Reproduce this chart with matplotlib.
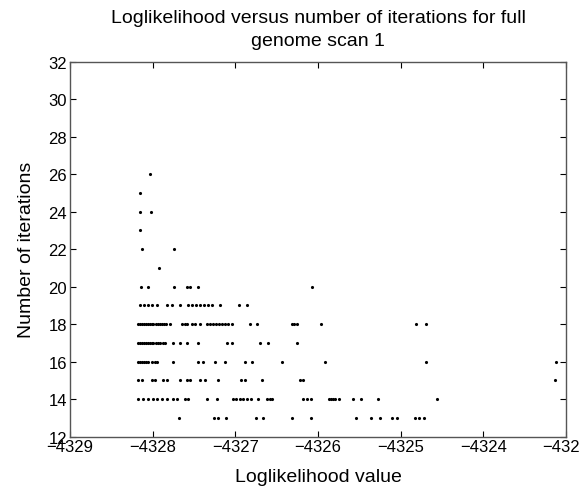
import numpy as np
import matplotlib
matplotlib.use('Agg')
import matplotlib.pyplot as plt

plt.rcParams['font.family'] = ['Liberation Sans', 'DejaVu Sans']

# loglikelihood values grouped by number of iterations
ll_13 = [-4327.68, -4327.26, -4327.21, -4327.11, -4326.75, -4326.67, -4326.31, -4326.08,
         -4325.54, -4325.36, -4325.25, -4325.10, -4325.04, -4324.83, -4324.78, -4324.72]
ll_14 = [-4328.18, -4328.12, -4328.06, -4328.00, -4327.95, -4327.89, -4327.83, -4327.75,
         -4327.71, -4327.61, -4327.57, -4327.34, -4327.22, -4327.03, -4326.99, -4326.94,
         -4326.91, -4326.86, -4326.81, -4326.73, -4326.62, -4326.58, -4326.56, -4326.18,
         -4326.13, -4326.08, -4325.87, -4325.84, -4325.82, -4325.79, -4325.75, -4325.58,
         -4325.48, -4325.27, -4324.56]
ll_15 = [-4328.18, -4328.13, -4328.01, -4327.97, -4327.875, -4327.83, -4327.67, -4327.585,
         -4327.55, -4327.43, -4327.37, -4327.21, -4326.93, -4326.88, -4326.68, -4326.22,
         -4326.18, -4323.13]
ll_16 = [-4328.18, -4328.15, -4328.13, -4328.11, -4328.08, -4328.06, -4328.01, -4327.97,
         -4327.95, -4327.75, -4327.45, -4327.39, -4327.25, -4327.13, -4326.88, -4326.80,
         -4326.44, -4325.92, -4324.69, -4323.12]
ll_17 = [-4328.18, -4328.155, -4328.13, -4328.105, -4328.08, -4328.06, -4328.035, -4328.01,
         -4327.99, -4327.965, -4327.94, -4327.91, -4327.875, -4327.85, -4327.75, -4327.67,
         -4327.585, -4327.45, -4327.10, -4327.04, -4326.70, -4326.605, -4326.25]
ll_18 = [-4328.18, -4328.155, -4328.13, -4328.105, -4328.08, -4328.06, -4328.035, -4328.01,
         -4327.99, -4327.965, -4327.94, -4327.915, -4327.89, -4327.865, -4327.84, -4327.79,
         -4327.645, -4327.61, -4327.585, -4327.52, -4327.49, -4327.43, -4327.34, -4327.31,
         -4327.27, -4327.23, -4327.20, -4327.16, -4327.13, -4327.09, -4327.04, -4326.82,
         -4326.74, -4326.31, -4326.29, -4326.25, -4325.96, -4324.81, -4324.69]
ll_19 = [-4328.15, -4328.10, -4328.06, -4328.01, -4327.95, -4327.83, -4327.77, -4327.67,
         -4327.57, -4327.52, -4327.48, -4327.43, -4327.38, -4327.33, -4327.28, -4327.19,
         -4326.96, -4326.86]
ll_20 = [-4328.145, -4328.06, -4327.74, -4327.59, -4327.55, -4327.45, -4326.07]
ll_21 = [-4327.92]
ll_22 = [-4328.13, -4327.74]
ll_23 = [-4328.15]
ll_24 = [-4328.15, -4328.02]
ll_25 = [-4328.15]
ll_26 = [-4328.03]

groups = {13: ll_13, 14: ll_14, 15: ll_15, 16: ll_16, 17: ll_17, 18: ll_18, 19: ll_19,
          20: ll_20, 21: ll_21, 22: ll_22, 23: ll_23, 24: ll_24, 25: ll_25, 26: ll_26}

xs = []
ys = []
for it, vals in groups.items():
    xs.extend(vals)
    ys.extend([it] * len(vals))
xs = np.array(xs)
ys = np.array(ys)

fig = plt.figure(figsize=(5.8, 4.89), dpi=100)
ax = fig.add_axes([70 / 580, 1 - 437.7 / 489, (566 - 70) / 580, (437.7 - 62.7) / 489])

ax.plot(xs, ys, 'k.', markersize=2.5)

ax.set_xlim(-4329, -4323)
ax.set_ylim(12, 32)
ax.set_xticks(np.arange(-4329, -4322, 1))
ax.set_yticks(np.arange(12, 33, 2))
ax.tick_params(direction='in', top=True, right=True, length=4, labelsize=12, pad=2)
for s in ax.spines.values():
    s.set_color('#555555')
    s.set_linewidth(1.0)

ax.set_xlabel('Loglikelihood value', fontsize=14, labelpad=10)
ax.set_ylabel('Number of iterations', fontsize=14, labelpad=10)
ax.set_title('Loglikelihood versus number of iterations for full\ngenome scan 1',
             fontsize=14, pad=12, linespacing=1.5)

plt.savefig('out.png', dpi=100)
